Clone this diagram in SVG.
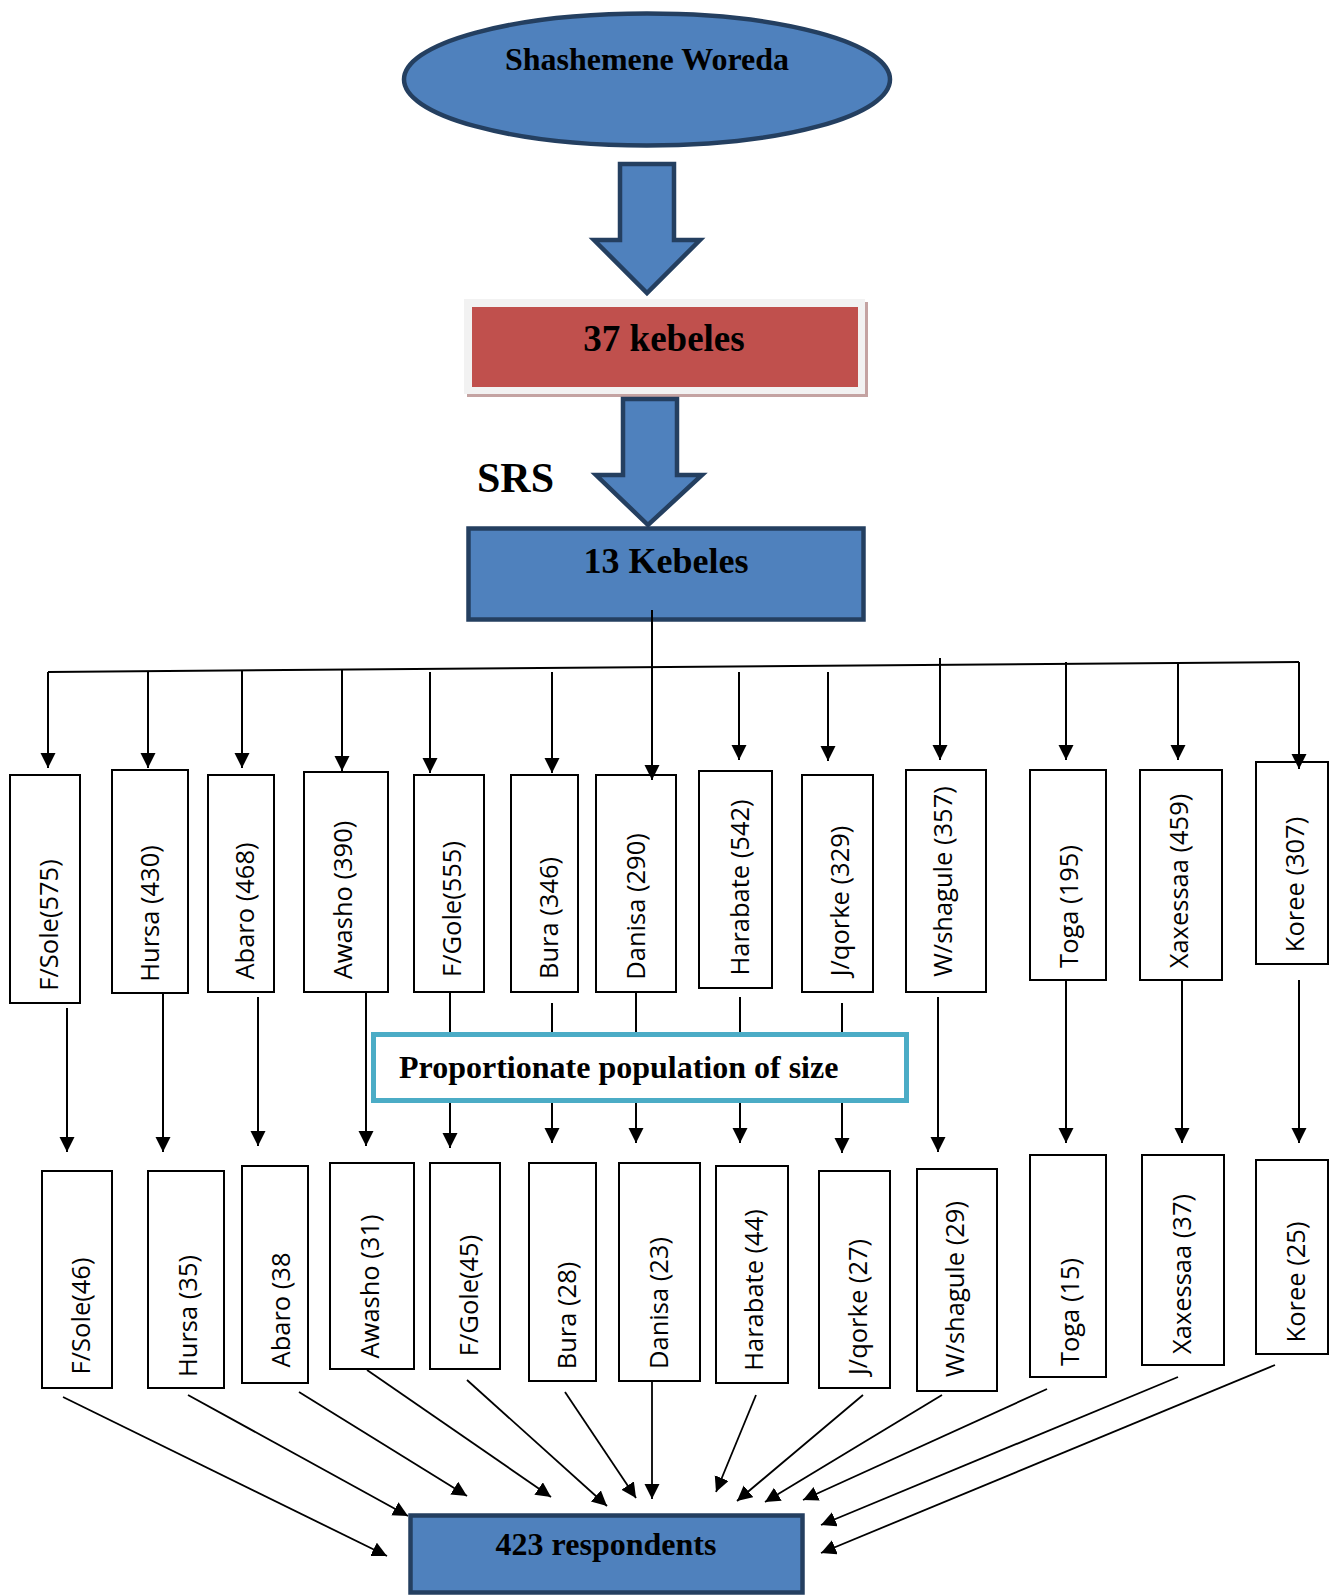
<svg xmlns="http://www.w3.org/2000/svg" width="1336" height="1596" viewBox="0 0 1336 1596">
<defs>
<marker id="ah" markerUnits="userSpaceOnUse" markerWidth="18" markerHeight="18" refX="15" refY="7.5" orient="auto">
<path d="M0,0 L15,7.5 L0,15 z" fill="#000"/>
</marker>
<style>
.blue{fill:#4f81bd;stroke:#243f60;stroke-width:4.5;stroke-linejoin:miter}
.bold{font-family:"Liberation Serif","Times New Roman",serif;font-weight:bold;fill:#000}
.box{fill:#fff;stroke:#000;stroke-width:2}
.lbl{font-family:"Open Sans",sans-serif;font-size:25.5px;fill:#000;text-anchor:middle}
.con{fill:none;stroke:#000;stroke-width:2}
.arr{fill:none;stroke:#000;stroke-width:2;marker-end:url(#ah)}
.diag{fill:none;stroke:#000;stroke-width:1.8;marker-end:url(#ah)}
</style>
</defs>
<rect width="1336" height="1596" fill="#fff"/>

<g id="woreda">
<ellipse class="blue" cx="647" cy="79.5" rx="243" ry="66" stroke-width="4"/>
<text class="bold" x="647" y="70" font-size="32" text-anchor="middle">Shashemene Woreda</text>
</g>

<g id="arrow1">
<polygon class="blue" points="620,164 674,164 674,240 700,240 647,293 594,240 620,240"/>
</g>

<g id="kebeles37">
<rect x="467" y="302" width="401" height="95" fill="#c4a3a2"/>
<rect x="464" y="299" width="401" height="95" fill="#f2f2f2"/>
<rect x="472" y="307" width="386" height="80" fill="#c0504d"/>
<text class="bold" x="664" y="351" font-size="37" text-anchor="middle">37 kebeles</text>
</g>

<g id="arrow2">
<polygon class="blue" points="623,399 677,399 677,475 702,475 648,525 596,475 623,475"/>
</g>

<g id="srs">
<text class="bold" x="477" y="492" font-size="42">SRS</text>
</g>

<g id="kebeles13">
<rect class="blue" x="468.5" y="528.5" width="395" height="91" stroke-width="5"/>
<text class="bold" x="666" y="573" font-size="36" text-anchor="middle">13 Kebeles</text>
</g>

<g id="top-boxes">
<g id="t-fsole"><rect class="box" x="10" y="775" width="70" height="228"/><text class="lbl" transform="translate(49,925) rotate(-90)" y="9">F/Sole(575)</text></g>
<g id="t-hursa"><rect class="box" x="112" y="770" width="76" height="223"/><text class="lbl" transform="translate(150,913.5) rotate(-90)" y="9">Hursa (430)</text></g>
<g id="t-abaro"><rect class="box" x="208" y="775" width="66" height="217"/><text class="lbl" transform="translate(245,911) rotate(-90)" y="9">Abaro (468)</text></g>
<g id="t-awasho"><rect class="box" x="304" y="772" width="84" height="220"/><text class="lbl" transform="translate(343,900) rotate(-90)" y="9">Awasho (390)</text></g>
<g id="t-fgole"><rect class="box" x="414" y="775" width="70" height="217"/><text class="lbl" transform="translate(452,909) rotate(-90)" y="9">F/Gole(555)</text></g>
<g id="t-bura"><rect class="box" x="511" y="775" width="67" height="217"/><text class="lbl" transform="translate(549,918) rotate(-90)" y="9">Bura (346)</text></g>
<g id="t-danisa"><rect class="box" x="596" y="775" width="80" height="217"/><text class="lbl" transform="translate(636,906.5) rotate(-90)" y="9">Danisa (290)</text></g>
<g id="t-harabate"><rect class="box" x="699" y="771" width="73" height="217"/><text class="lbl" transform="translate(740,887.5) rotate(-90)" y="9">Harabate (542)</text></g>
<g id="t-jqorke"><rect class="box" x="802" y="775" width="71" height="217"/><text class="lbl" transform="translate(840,901) rotate(-90)" y="9">J/qorke (329)</text></g>
<g id="t-wshagule"><rect class="box" x="906" y="770" width="80" height="222"/><text class="lbl" transform="translate(943,881.5) rotate(-90)" y="9">W/shagule (357)</text></g>
<g id="t-toga"><rect class="box" x="1030" y="770" width="76" height="210"/><text class="lbl" transform="translate(1069,906.5) rotate(-90)" y="9">Toga (195)</text></g>
<g id="t-xaxessaa"><rect class="box" x="1140" y="770" width="82" height="210"/><text class="lbl" transform="translate(1179,881) rotate(-90)" y="9">Xaxessaa (459)</text></g>
<g id="t-koree"><rect class="box" x="1256" y="762" width="72" height="202"/><text class="lbl" transform="translate(1295,884.5) rotate(-90)" y="9">Koree (307)</text></g>
</g>

<g id="connectors">
<path class="con" d="M48,672 L1299,662"/>
<line class="arr" x1="652" y1="610" x2="652" y2="780"/>
<line class="arr" x1="48" y1="672" x2="48" y2="768"/>
<line class="arr" x1="148" y1="671" x2="148" y2="768"/>
<line class="arr" x1="242" y1="670" x2="242" y2="768"/>
<line class="arr" x1="342" y1="669" x2="342" y2="771"/>
<line class="arr" x1="430" y1="672" x2="430" y2="773"/>
<line class="arr" x1="552" y1="672" x2="552" y2="773"/>
<line class="arr" x1="739" y1="672" x2="739" y2="760"/>
<line class="arr" x1="828" y1="672" x2="828" y2="761"/>
<line class="arr" x1="940" y1="658" x2="940" y2="760"/>
<line class="arr" x1="1066" y1="662" x2="1066" y2="760"/>
<line class="arr" x1="1178" y1="662" x2="1178" y2="760"/>
<line class="arr" x1="1299" y1="662" x2="1299" y2="769"/>

<line class="arr" x1="67" y1="1008" x2="67" y2="1152"/>
<line class="arr" x1="163" y1="993" x2="163" y2="1152"/>
<line class="arr" x1="258" y1="997" x2="258" y2="1146"/>
<line class="arr" x1="366" y1="992" x2="366" y2="1146"/>
<line class="arr" x1="450" y1="992" x2="450" y2="1148"/>
<line class="arr" x1="552" y1="1003" x2="552" y2="1143"/>
<line class="arr" x1="636" y1="992" x2="636" y2="1143"/>
<line class="arr" x1="740" y1="997" x2="740" y2="1143"/>
<line class="arr" x1="842" y1="1003" x2="842" y2="1153"/>
<line class="arr" x1="938" y1="997" x2="938" y2="1152"/>
<line class="arr" x1="1066" y1="980" x2="1066" y2="1143"/>
<line class="arr" x1="1182" y1="980" x2="1182" y2="1143"/>
<line class="arr" x1="1299" y1="980" x2="1299" y2="1143"/>

<line class="diag" x1="63" y1="1397" x2="387" y2="1556"/>
<line class="diag" x1="188" y1="1395" x2="408" y2="1516"/>
<line class="diag" x1="299" y1="1392" x2="467" y2="1496"/>
<line class="diag" x1="367" y1="1370" x2="551" y2="1497"/>
<line class="diag" x1="467" y1="1380" x2="607" y2="1506"/>
<line class="diag" x1="565" y1="1392" x2="636" y2="1498"/>
<line class="diag" x1="652" y1="1381" x2="652" y2="1499"/>
<line class="diag" x1="756" y1="1395" x2="716" y2="1492"/>
<line class="diag" x1="863" y1="1395" x2="737" y2="1501"/>
<line class="diag" x1="942" y1="1395" x2="765" y2="1502"/>
<line class="diag" x1="1047" y1="1389" x2="803" y2="1500"/>
<line class="diag" x1="1178" y1="1377" x2="821" y2="1525"/>
<line class="diag" x1="1275" y1="1365" x2="821" y2="1553"/>
</g>

<g id="proportionate">
<rect x="373.5" y="1034.5" width="533" height="66" fill="#fff" stroke="#4bacc6" stroke-width="5"/>
<text class="bold" x="399" y="1078" font-size="32">Proportionate population of size</text>
</g>

<g id="bottom-boxes">
<g id="b-fsole"><rect class="box" x="42" y="1171" width="70" height="217"/><text class="lbl" transform="translate(81,1316) rotate(-90)" y="9">F/Sole(46)</text></g>
<g id="b-hursa"><rect class="box" x="148" y="1171" width="76" height="217"/><text class="lbl" transform="translate(188,1316) rotate(-90)" y="9">Hursa (35)</text></g>
<g id="b-abaro"><rect class="box" x="242" y="1166" width="66" height="217"/><text class="lbl" transform="translate(281,1310) rotate(-90)" y="9">Abaro (38</text></g>
<g id="b-awasho"><rect class="box" x="330" y="1163" width="84" height="206"/><text class="lbl" transform="translate(370,1286.5) rotate(-90)" y="9">Awasho (31)</text></g>
<g id="b-fgole"><rect class="box" x="430" y="1163" width="70" height="206"/><text class="lbl" transform="translate(469,1295.5) rotate(-90)" y="9">F/Gole(45)</text></g>
<g id="b-bura"><rect class="box" x="529" y="1163" width="67" height="218"/><text class="lbl" transform="translate(567,1315.5) rotate(-90)" y="9">Bura (28)</text></g>
<g id="b-danisa"><rect class="box" x="619" y="1163" width="81" height="218"/><text class="lbl" transform="translate(659,1303) rotate(-90)" y="9">Danisa (23)</text></g>
<g id="b-harabate"><rect class="box" x="716" y="1166" width="72" height="217"/><text class="lbl" transform="translate(754,1290) rotate(-90)" y="9">Harabate (44)</text></g>
<g id="b-jqorke"><rect class="box" x="819" y="1171" width="71" height="217"/><text class="lbl" transform="translate(858,1307) rotate(-90)" y="9">J/qorke (27)</text></g>
<g id="b-wshagule"><rect class="box" x="917" y="1169" width="80" height="222"/><text class="lbl" transform="translate(955,1289) rotate(-90)" y="9">W/shagule (29)</text></g>
<g id="b-toga"><rect class="box" x="1030" y="1155" width="76" height="222"/><text class="lbl" transform="translate(1070,1312) rotate(-90)" y="9">Toga (15)</text></g>
<g id="b-xaxessaa"><rect class="box" x="1142" y="1155" width="82" height="210"/><text class="lbl" transform="translate(1182,1274) rotate(-90)" y="9">Xaxessaa (37)</text></g>
<g id="b-koree"><rect class="box" x="1256" y="1160" width="72" height="194"/><text class="lbl" transform="translate(1296,1282) rotate(-90)" y="9">Koree (25)</text></g>
</g>

<g id="respondents">
<rect class="blue" x="410.5" y="1515.5" width="392" height="77" stroke-width="5"/>
<text class="bold" x="606" y="1555" font-size="32" text-anchor="middle">423 respondents</text>
</g>
</svg>
